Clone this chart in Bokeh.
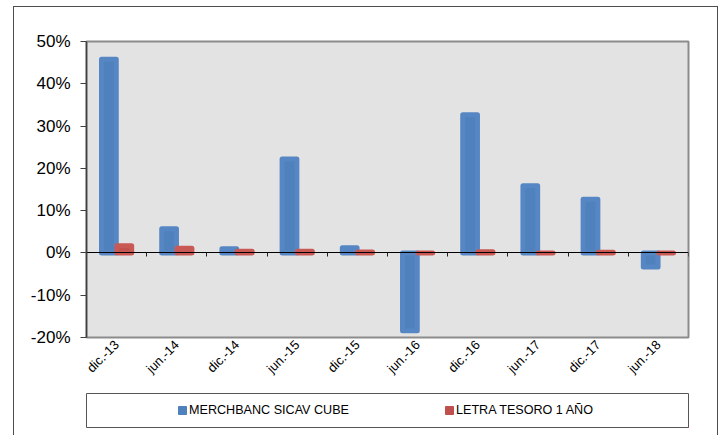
from math import pi
import numpy as np
from bokeh.plotting import figure
from bokeh.layouts import row, column
from bokeh.models import (Range1d, LinearAxis, FixedTicker, CustomJSTickFormatter,
                          PrintfTickFormatter, Legend, LegendItem, ColumnDataSource,
                          Spacer)
from bokeh.embed import file_html
from bokeh.resources import INLINE

# ---- data -------------------------------------------------------------
categories = ["dic.-13", "jun.-14", "dic.-14", "jun.-15", "dic.-15",
              "jun.-16", "dic.-16", "jun.-17", "dic.-17", "jun.-18"]
merchbanc = [45.8, 5.7, 1.0, 22.2, 1.2, -18.4, 32.7, 15.9, 12.7, -3.3]
letra = [1.7, 1.1, 0.4, 0.4, 0.2, 0.0, 0.3, 0.0, 0.15, 0.0]
y_ticks = [-20, -10, 0, 10, 20, 30, 40, 50]
series_names = ["MERCHBANC SICAV CUBE", "LETRA TESORO 1 AÑO"]

BLUE, BLUE_EDGE = "#4F81BD", "#5687c4"
RED, RED_EDGE = "#C0504D", "#c95955"
FONT = "Liberation Sans"
FRAME = "#4d4d4d"

n = len(categories)
centers = np.arange(n) + 0.5
offset = 0.128
bar_w = 0.245

INNER_W = 703

src = ColumnDataSource(dict(xb=centers - offset, xr=centers + offset,
                            m=merchbanc, l=letra))

# ---- main chart ----------------------------------------------------------
p = figure(width=INNER_W, height=378, output_backend="svg", toolbar_location=None,
           x_range=Range1d(0, n), y_range=Range1d(min(y_ticks), max(y_ticks)),
           min_border_left=72, min_border_right=20, min_border_top=34,
           min_border_bottom=48, x_axis_type=None, y_axis_type=None)
p.background_fill_color = "#E3E3E3"
p.border_fill_color = "white"
p.outline_line_color = "#8c8c8c"
p.outline_line_width = 2

yax = LinearAxis(ticker=FixedTicker(ticks=y_ticks),
                 formatter=PrintfTickFormatter(format="%d%%"))
yax.axis_line_color = "#404040"
yax.axis_line_width = 1.5
yax.major_tick_line_color = "#404040"
yax.major_tick_out = 6
yax.major_tick_in = 0
yax.minor_tick_line_color = None
yax.major_label_text_font = FONT
yax.major_label_text_font_size = "17px"
yax.major_label_text_color = "black"
yax.major_label_standoff = 10
p.add_layout(yax, "left")

p.ygrid.ticker = FixedTicker(ticks=y_ticks)
p.ygrid.grid_line_color = "#8c8c8c"
p.ygrid.grid_line_dash = "2 1"
p.ygrid.grid_line_width = 1

xlab = LinearAxis(ticker=FixedTicker(ticks=list(centers)),
                  formatter=CustomJSTickFormatter(args=dict(labels=categories),
                                                  code="return labels[Math.floor(tick)]"))
xlab.axis_line_color = None
xlab.major_tick_line_color = None
xlab.major_tick_out = 0
xlab.major_tick_in = 0
xlab.minor_tick_line_color = None
xlab.major_label_orientation = pi / 4
xlab.major_label_text_font = FONT
xlab.major_label_text_font_size = "13px"
xlab.major_label_text_color = "black"
xlab.major_label_standoff = 5
p.add_layout(xlab, "below")

p.vbar(x="xb", top="m", bottom=0, width=bar_w, source=src,
       fill_color=BLUE, line_color=BLUE_EDGE, line_width=5, line_join="round")
p.vbar(x="xr", top="l", bottom=0, width=bar_w, source=src,
       fill_color=RED, line_color=RED_EDGE, line_width=5, line_join="round")

zax = LinearAxis(fixed_location=0, ticker=FixedTicker(ticks=list(range(1, n + 1))),
                 formatter=CustomJSTickFormatter(code="return ''"))
zax.axis_line_color = "black"
zax.axis_line_width = 1
zax.major_tick_line_color = "#202020"
zax.major_tick_out = 4
zax.major_tick_in = 0
zax.minor_tick_line_color = None
p.add_layout(zax, "below")

# ---- legend box (its frame is the legend border) -------------------------
lg = figure(width=INNER_W, height=50, output_backend="svg", toolbar_location=None,
            x_range=Range1d(-1000, -999), y_range=Range1d(1000, 1001),
            min_border_left=65, min_border_right=29, min_border_top=8,
            min_border_bottom=8, x_axis_type=None, y_axis_type=None)
lg.xgrid.visible = False
lg.ygrid.visible = False
lg.background_fill_color = "white"
lg.border_fill_color = "white"
lg.outline_line_color = "#555555"
lg.outline_line_width = 1

# swatch renderers share the data but lie far outside this box's view range
d1 = lg.vbar(x="xb", top="m", bottom=0, width=bar_w, source=src,
             fill_color=BLUE, line_color=BLUE, line_join="round")
d2 = lg.vbar(x="xr", top="l", bottom=0, width=bar_w, source=src,
             fill_color=RED, line_color=RED, line_join="round")
leg = Legend(items=[LegendItem(label=series_names[0], renderers=[d1]),
                    LegendItem(label=series_names[1], renderers=[d2])],
             location=(91, 10), orientation="horizontal", padding=0, margin=0,
             spacing=95, glyph_width=10, glyph_height=10, label_standoff=2,
             label_height=14, label_text_font=FONT, label_text_font_size="12.6px",
             label_text_color="black", border_line_color=None,
             background_fill_alpha=0)
lg.add_layout(leg)

# ---- outer chart frame ---------------------------------------------------
def vline():
    return column(Spacer(width=1, height=6),
                  Spacer(width=1, height=429, styles={"background-color": FRAME}))

inner = column(Spacer(width=INNER_W, height=6),
               Spacer(width=INNER_W, height=1, styles={"background-color": FRAME}),
               p, lg)
layout = row(Spacer(width=13, height=1), vline(), inner, vline())

open("out.html", "w").write(file_html(layout, INLINE))
